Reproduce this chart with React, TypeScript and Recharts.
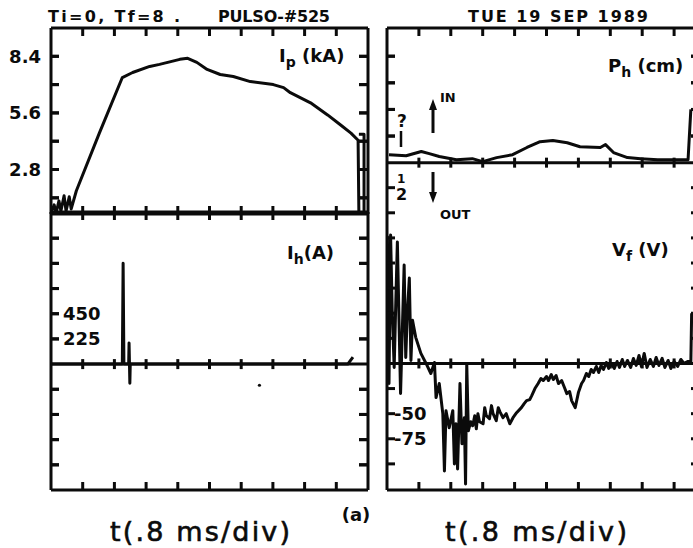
import { ComposedChart, Line, XAxis, YAxis, ReferenceLine, ReferenceDot } from "recharts";

const INK = "#0b0b0b";
const FONT = "'DejaVu Sans', 'Liberation Sans', sans-serif";

// scope divisions, .8 ms each (Ti=0, Tf=8)
const DIVS = [0.8, 1.6, 2.4, 3.2, 4.0, 4.8, 5.6, 6.4, 7.2];
const T0 = 0;
const T1 = 8;

// ---- Ip (kA), upper left ----
const ipTime = [0, 0.08, 0.13, 0.2, 0.25, 0.33, 0.38, 0.46, 0.51, 0.64, 1.22, 1.8, 2.06, 2.49, 2.74, 3.25, 3.45, 3.68, 3.94, 4.27, 4.6, 5.03, 5.61, 5.87, 6.04, 6.55, 6.98, 7.31, 7.57, 7.75, 7.77, 7.9, 7.9, 7.77];
const ipKA = [0.65, 1.05, 0.65, 1.25, 0.75, 1.5, 0.75, 1.45, 0.85, 1.75, 4.6, 7.35, 7.6, 7.9, 8.0, 8.25, 8.3, 8.1, 7.75, 7.5, 7.4, 7.15, 7.0, 6.85, 6.6, 6.1, 5.5, 5.0, 4.6, 4.25, 0.65, 0.65, 4.55, 4.55];
const ipDomain = [0.6, 9.8];
const ipTicks = [1.4, 2.8, 4.2, 5.6, 7.0, 8.4];
const ipLabels: Record<string, string> = { "2.8": "2.8", "5.6": "5.6", "8.4": "8.4" };

// ---- Ih (A), lower left ----
const ihTime = [0, 1.8, 1.82, 1.84, 1.96, 1.97, 1.99, 2.0, 7.49, 7.62];
const ihAmp = [0, 0, 900, 0, 0, 189, -171, 0, 0, 63];
const ihDomain = [-1125, 1359];
const ihTicks = [-900, -675, -450, -225, 225, 450, 675, 900, 1125];
const ihLabels: Record<string, string> = { "225": "225", "450": "450" };

// ---- Ph (cm), upper right ----
const phTime = [0.05, 0.48, 0.86, 1.06, 1.31, 1.74, 2.14, 2.4, 2.75, 3.15, 3.51, 3.84, 4.16, 4.52, 4.84, 5.35, 5.48, 5.68, 6.03, 6.36, 6.79, 7.19, 7.55, 7.62];
const phCm = [0.3, 0.26, 0.42, 0.34, 0.23, 0.11, 0.15, 0.04, 0.19, 0.3, 0.57, 0.79, 0.83, 0.75, 0.6, 0.57, 0.68, 0.38, 0.19, 0.15, 0.11, 0.11, 0.11, 2.0];
const phDomain = [-12.3, 5.06];
const phTicks = [1, 2, 3, 4];

// ---- Vf (V), lower right ----
const vfTime = [0, 0.01, 0.05, 0.09, 0.13, 0.18, 0.22, 0.26, 0.34, 0.43, 0.47, 0.51, 0.56, 0.6, 0.64, 0.72, 0.85, 0.98, 1.1, 1.19, 1.23, 1.31, 1.4, 1.44, 1.48, 1.56, 1.65, 1.69, 1.73, 1.77, 1.83, 1.88, 1.94, 1.97, 2.0, 2.04, 2.1, 2.15, 2.2, 2.24, 2.28, 2.32, 2.41, 2.45, 2.49, 2.57, 2.62, 2.66, 2.74, 2.79, 2.83, 2.91, 2.99, 3.08, 3.16, 3.25, 3.37, 3.44, 3.5, 3.58, 3.63, 3.71, 3.79, 3.86, 3.92, 4.0, 4.05, 4.12, 4.17, 4.24, 4.3, 4.38, 4.45, 4.51, 4.58, 4.63, 4.72, 4.8, 4.88, 4.93, 5.0, 5.06, 5.12, 5.18, 5.25, 5.31, 5.37, 5.43, 5.5, 5.56, 5.62, 5.7, 5.77, 5.83, 5.9, 5.96, 6.03, 6.11, 6.18, 6.25, 6.32, 6.38, 6.45, 6.52, 6.6, 6.68, 6.75, 6.82, 6.9, 6.97, 7.05, 7.12, 7.2, 7.29, 7.37, 7.45, 7.55, 7.62, 7.64];
const vfVolt = [0, 126, -20, 128, 53, -4, 60, 121, -30, 98, 6, 50, 85, 3, 43, 26, 10, 0, -10, 1, -34, -20, -50, -107, -47, -64, -47, -100, -60, -105, -20, -80, -54, -120, 0, -67, -58, -62, -52, -65, -50, -58, -60, -44, -52, -55, -42, -50, -57, -44, -48, -54, -50, -60, -54, -49, -44, -40, -37, -36, -32, -25, -20, -15, -17, -13, -17, -11, -16, -12, -20, -17, -24, -30, -28, -37, -44, -29, -20, -17, -10, -13, -6, -9, -3, -9, -2, -6, 1, -5, 0, -5, 2, -4, 4, -3, 3, -4, 5, -2, 8, -3, 10, -4, 4, -3, 6, -2, 5, -4, 3, -5, 2, -3, 4, 0, 2, 1, 50];
const vfDomain = [-126, 334];
const vfTicks = [-100, -75, -50, -25, 25, 50, 75, 100, 125, 150, 175];
const vfLabels: Record<string, string> = { "-50": "-50", "-75": "-75" };

const zip = (t: number[], v: number[]) => t.map((x, i) => ({ t: x, v: v[i] }));
const ipData = zip(ipTime, ipKA);
const ihData = zip(ihTime, ihAmp);
const phData = zip(phTime, phCm);
const vfData = zip(vfTime, vfVolt);

const AXIS_LINE = { stroke: INK, strokeWidth: 3 };
const TICK_LINE = { stroke: INK, strokeWidth: 3 };
const emptyTick = () => <g />;

function yLabel(labels: Record<string, string>, side: "out" | "in" | "inWide") {
  return (p: any) => {
    const lab = labels[String(p.payload.value)];
    if (!lab) return <g />;
    const out = side === "out";
    return (
      <text
        x={out ? p.x - 10 : p.x + (side === "in" ? 7 : 12)}
        y={p.y}
        dy="0.36em"
        textAnchor={out ? "end" : "start"}
        fontFamily={FONT}
        fontWeight="bold"
        fontSize={18}
        fill={INK}
      >
        {lab}
      </text>
    );
  };
}

// axes need a size of at least 1px or recharts skips drawing them
function xAxes() {
  return [
    <XAxis key="xb" xAxisId="b" dataKey="t" type="number" orientation="bottom" height={1} domain={[T0, T1]} ticks={DIVS} interval={0} allowDataOverflow mirror tickSize={8} tickMargin={0} tickLine={TICK_LINE} tick={emptyTick} axisLine={AXIS_LINE} />,
    <XAxis key="xt" xAxisId="t" dataKey="t" type="number" orientation="top" height={1} domain={[T0, T1]} ticks={DIVS} interval={0} allowDataOverflow mirror tickSize={8} tickMargin={0} tickLine={TICK_LINE} tick={emptyTick} axisLine={AXIS_LINE} />,
  ];
}

type Seg = { dx1: number; dx2: number; dy1: number; dy2: number };
const mark = (s: Seg) => (p: any) => (
  <line x1={p.cx + s.dx1} x2={p.cx + s.dx2} y1={p.cy + s.dy1} y2={p.cy + s.dy2} stroke={INK} strokeWidth={3} />
);

function marks(prefix: string, yId: string, pts: { x: number; y: number }[], s: Seg) {
  const shape = mark(s);
  return pts.map((pt, i) => (
    <ReferenceDot key={prefix + i} xAxisId="b" yAxisId={yId} x={pt.x} y={pt.y} r={4} shape={shape} ifOverflow="visible" />
  ));
}

function sideTicks(prefix: string, yId: string, yTicks: number[], rightLen: number) {
  return [
    ...marks(prefix + "l", yId, yTicks.map((v) => ({ x: T0 + 1e-4, y: v })), { dx1: 0, dx2: 8, dy1: 0, dy2: 0 }),
    ...marks(prefix + "r", yId, yTicks.map((v) => ({ x: T1 - 1e-4, y: v })), { dx1: 0, dx2: -rightLen, dy1: 0, dy2: 0 }),
  ];
}

function zeroLine(yId: string, prefix: string) {
  return [
    <ReferenceLine key={prefix + "z"} xAxisId="b" yAxisId={yId} y={0} stroke={INK} strokeWidth={3} />,
    ...marks(prefix + "zt", yId, DIVS.map((t) => ({ x: t, y: 0 })), { dx1: 0, dx2: 0, dy1: -5, dy2: 5 }),
  ];
}

const lineProps = {
  xAxisId: "b",
  type: "linear" as const,
  dataKey: "v",
  stroke: INK,
  strokeWidth: 3,
  dot: false,
  isAnimationActive: false,
  strokeLinejoin: "round" as const,
};

export default function App() {
  return (
    <div
      style={{
        position: "fixed",
        left: 0,
        top: 0,
        width: 693,
        height: 548,
        overflow: "hidden",
        background: "#ffffff",
      }}
    >
      {/* Ip */}
      <div style={{ position: "absolute", left: 0, top: 0 }}>
        <ComposedChart width={380} height={220} margin={{ top: 28, right: 12, bottom: 6, left: 50 }}>
          {xAxes()}
          <YAxis yAxisId="l" type="number" orientation="left" width={1} domain={ipDomain} ticks={ipTicks} interval={0} allowDataOverflow mirror tickSize={8} tickMargin={0} tickLine={TICK_LINE} tick={emptyTick} axisLine={AXIS_LINE} />
          <YAxis yAxisId="ll" type="number" orientation="left" width={1} domain={ipDomain} ticks={ipTicks} interval={0} allowDataOverflow tickSize={0} tickMargin={0} tickLine={false} axisLine={false} tick={yLabel(ipLabels, "out")} />
          <YAxis yAxisId="r" type="number" orientation="right" width={1} domain={ipDomain} ticks={ipTicks} interval={0} allowDataOverflow mirror tickSize={9} tickMargin={0} tickLine={TICK_LINE} tick={emptyTick} axisLine={AXIS_LINE} />
          {sideTicks("ip", "l", ipTicks, 9)}
          <Line yAxisId="l" data={ipData} {...lineProps} />
        </ComposedChart>
      </div>

      {/* Ih */}
      <div style={{ position: "absolute", left: 0, top: 200 }}>
        <ComposedChart width={380} height={300} margin={{ top: 12, right: 12, bottom: 10, left: 50 }}>
          {xAxes()}
          <YAxis yAxisId="l" type="number" orientation="left" width={1} domain={ihDomain} ticks={ihTicks} interval={0} allowDataOverflow mirror tickSize={8} tickMargin={0} tickLine={TICK_LINE} tick={emptyTick} axisLine={AXIS_LINE} />
          <YAxis yAxisId="ll" type="number" orientation="left" width={1} domain={ihDomain} ticks={ihTicks} interval={0} allowDataOverflow tickSize={0} tickMargin={0} tickLine={false} axisLine={false} tick={yLabel(ihLabels, "inWide")} />
          <YAxis yAxisId="r" type="number" orientation="right" width={1} domain={ihDomain} ticks={ihTicks} interval={0} allowDataOverflow mirror tickSize={9} tickMargin={0} tickLine={TICK_LINE} tick={emptyTick} axisLine={AXIS_LINE} />
          {sideTicks("ih", "l", ihTicks, 9)}
          {zeroLine("l", "ih")}
          <ReferenceDot xAxisId="b" yAxisId="l" x={5.26} y={-189} r={1.6} fill={INK} stroke="none" />
          <Line yAxisId="l" data={ihData} {...lineProps} />
        </ComposedChart>
      </div>

      {/* Ph + Vf */}
      <div style={{ position: "absolute", left: 380, top: 0 }}>
        <ComposedChart width={330} height={500} margin={{ top: 28, right: 4, bottom: 10, left: 6 }}>
          {xAxes()}
          <YAxis yAxisId="pl" type="number" orientation="left" width={1} domain={phDomain} ticks={[...phTicks, 7.55, 8.49]} interval={0} allowDataOverflow mirror tickSize={8} tickMargin={0} tickLine={TICK_LINE} tick={emptyTick} axisLine={AXIS_LINE} />
          <YAxis yAxisId="vl" type="number" orientation="left" width={1} domain={vfDomain} ticks={vfTicks} interval={0} allowDataOverflow tickSize={0} tickMargin={0} tickLine={false} axisLine={false} tick={yLabel(vfLabels, "in")} />
          <YAxis yAxisId="pr" type="number" orientation="right" width={1} domain={phDomain} ticks={phTicks} interval={0} allowDataOverflow mirror tickSize={15} tickMargin={0} tickLine={TICK_LINE} tick={emptyTick} axisLine={AXIS_LINE} />
          {sideTicks("ph", "pl", phTicks, 15)}
          {sideTicks("vf", "vl", vfTicks, 15)}
          {zeroLine("pl", "ph")}
          {zeroLine("vl", "vf")}
          <Line yAxisId="pl" data={phData} {...lineProps} />
          <Line yAxisId="vl" data={vfData} {...lineProps} />
        </ComposedChart>
      </div>

      {/* annotations */}
      <svg
        width={693}
        height={548}
        style={{ position: "absolute", left: 0, top: 0, pointerEvents: "none" }}
        fontFamily={FONT}
        fontWeight="bold"
        fill={INK}
      >
        <text x={48} y={22} fontSize={16} textLength={132} lengthAdjust="spacing">Ti=0, Tf=8 .</text>
        <text x={218} y={22} fontSize={16} textLength={112} lengthAdjust="spacing">PULSO-#525</text>
        <text x={468} y={22} fontSize={16} textLength={180} lengthAdjust="spacing">TUE 19 SEP 1989</text>

        <text x={279} y={62} fontSize={18}>
          I<tspan fontSize={14} dy={5}>p</tspan>
          <tspan dy={-5}> (kA)</tspan>
        </text>
        <text x={287} y={259} fontSize={18}>
          I<tspan fontSize={14} dy={5}>h</tspan>
          <tspan dy={-5}>(A)</tspan>
        </text>
        <text x={608} y={72} fontSize={18}>
          P<tspan fontSize={14} dy={5}>h</tspan>
          <tspan dy={-5}> (cm)</tspan>
        </text>
        <text x={612} y={256} fontSize={18}>
          V<tspan fontSize={14} dy={5}>f</tspan>
          <tspan dy={-5}> (V)</tspan>
        </text>

        <text x={440} y={102} fontSize={13}>IN</text>
        <text x={440} y={219} fontSize={13}>OUT</text>
        <text x={397} y={127} fontSize={17}>?</text>
        <line x1={401} x2={401} y1={131} y2={147} stroke={INK} strokeWidth={2.5} />
        <text x={397} y={183} fontSize={12}>1</text>
        <text x={396} y={200} fontSize={16}>2</text>

        <line x1={433} x2={433} y1={105} y2={133} stroke={INK} strokeWidth={3} />
        <path d="M429,110 L433,99 L437,110 Z" />
        <line x1={433} x2={433} y1={172} y2={196} stroke={INK} strokeWidth={3} />
        <path d="M429,192 L433,203 L437,192 Z" />

        <text x={356} y={521} fontSize={18} textAnchor="middle">(a)</text>
        <text x={200} y={541} fontSize={27} fontWeight="normal" stroke={INK} strokeWidth={0.6} textAnchor="middle" textLength={180} lengthAdjust="spacing">t(.8 ms/div)</text>
        <text x={536} y={541} fontSize={27} fontWeight="normal" stroke={INK} strokeWidth={0.6} textAnchor="middle" textLength={182} lengthAdjust="spacing">t(.8 ms/div)</text>
      </svg>
    </div>
  );
}
